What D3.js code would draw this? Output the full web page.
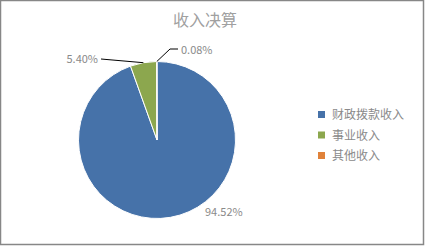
<!DOCTYPE html>
<html>
<head>
<meta charset="utf-8">
<script src="https://cdn.jsdelivr.net/npm/d3@7"></script>
<style>
  body { margin: 0; background: #fff; }
  svg { display: block; }
  text { font-family: "Noto Sans CJK SC", "Open Sans", sans-serif; }
</style>
</head>
<body>
<div id="chart"></div>
<script>
var title = "收入决算";
var categories = ["财政拨款收入", "事业收入", "其他收入"];
var values = [94.52, 5.40, 0.08];
var labels = ["94.52%", "5.40%", "0.08%"];
var colors = ["#4672A9", "#8CA74E", "#E0823A"];

var W = 425, H = 246;
var cx = 157, cy = 140, R = 78.5;

var svg = d3.select("#chart").append("svg")
    .attr("width", W)
    .attr("height", H);

svg.append("rect")
    .attr("x", 0.5).attr("y", 0.5)
    .attr("width", W - 2).attr("height", H - 2)
    .attr("fill", "#fff")
    .attr("stroke", "#878787")
    .attr("stroke-width", 1.5);

svg.append("text")
    .attr("x", 205).attr("y", 26)
    .attr("text-anchor", "middle")
    .attr("font-size", 16)
    .attr("fill", "#a0a0a0")
    .text(title);

var pie = d3.pie().sort(null).value(function(d) { return d; });
var arcs = pie(values);
var arc = d3.arc().innerRadius(0).outerRadius(R);

var g = svg.append("g")
    .attr("transform", "translate(" + cx + "," + cy + ")");

g.selectAll("path.slice")
    .data(arcs)
  .enter().append("path")
    .attr("class", "slice")
    .attr("d", arc)
    .attr("fill", function(d, i) { return colors[i]; })
    .attr("stroke", "#fff")
    .attr("stroke-width", 1)
    .attr("stroke-linejoin", "round");

// point on the rim at slice mid angle
function rim(d, r) {
  var a = (d.startAngle + d.endAngle) / 2;
  return [Math.sin(a) * r, -Math.cos(a) * r];
}

// big slice label, outside end
var lblAngle = 137 * Math.PI / 180;
g.append("text")
    .attr("x", Math.sin(lblAngle) * 98)
    .attr("y", -Math.cos(lblAngle) * 98)
    .attr("dy", "0.35em")
    .attr("text-anchor", "middle")
    .attr("font-size", 11)
    .attr("fill", "#8a8a8a")
    .text(labels[0]);

// 5.40% with leader
var p1 = rim(arcs[1], R);
g.append("polyline")
    .attr("points", [p1, [-56, -81]].map(function(p) { return p.join(","); }).join(" "))
    .attr("fill", "none").attr("stroke", "#000").attr("stroke-width", 1);
g.append("text")
    .attr("x", -59).attr("y", -81)
    .attr("dy", "0.35em")
    .attr("text-anchor", "end")
    .attr("font-size", 11)
    .attr("fill", "#8a8a8a")
    .text(labels[1]);

// 0.08% with leader
var p2 = rim(arcs[2], R);
g.append("polyline")
    .attr("points", [p2, [13, -91], [21, -91]].map(function(p) { return p.join(","); }).join(" "))
    .attr("fill", "none").attr("stroke", "#000").attr("stroke-width", 1);
g.append("text")
    .attr("x", 24).attr("y", -90)
    .attr("dy", "0.35em")
    .attr("font-size", 11)
    .attr("fill", "#8a8a8a")
    .text(labels[2]);

// legend
var legend = svg.append("g").attr("transform", "translate(318,111)");
var item = legend.selectAll("g")
    .data(categories)
  .enter().append("g")
    .attr("transform", function(d, i) { return "translate(0," + (i * 20.5) + ")"; });
item.append("rect")
    .attr("width", 7).attr("height", 7)
    .attr("fill", function(d, i) { return colors[i]; });
item.append("text")
    .attr("x", 14).attr("y", 4)
    .attr("dy", "0.35em")
    .attr("font-size", 12)
    .attr("fill", "#8a8a8a")
    .text(function(d) { return d; });
</script>
</body>
</html>
